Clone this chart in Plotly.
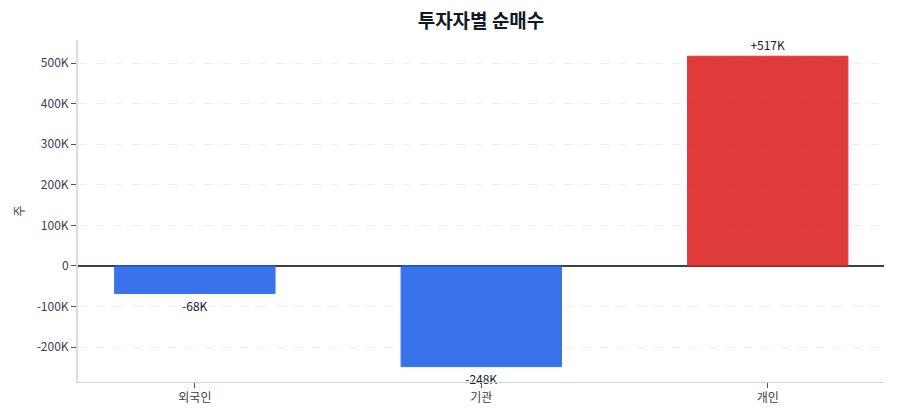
import plotly.graph_objects as go

categories = ["외국인", "기관", "개인"]
values = [-68000, -248000, 517000]
labels = ["-68K", "-248K", "+517K"]
tick_vals = [-200000, -100000, 0, 100000, 200000, 300000, 400000, 500000]
tick_text = ["-200K", "-100K", "0", "100K", "200K", "300K", "400K", "500K"]

colors = ["#2563eb" if v < 0 else "#dc2626" for v in values]

fig = go.Figure(go.Bar(
    x=categories, y=values, text=labels, textposition="outside",
    textfont=dict(size=12, color="#111827"),
    marker=dict(color=colors, opacity=0.9, line=dict(color=colors, width=1)),
    width=0.56, cliponaxis=False,
))

fig.update_layout(
    width=900, height=420,
    margin=dict(l=78, r=16, t=40, b=38),
    paper_bgcolor="white", plot_bgcolor="white",
    font=dict(family="Noto Sans CJK KR", size=12, color="#374151"),
    title=dict(text="<b>투자자별 순매수</b>", x=0.5, xref="paper", xanchor="center",
               y=0.95, yref="container", yanchor="middle",
               font=dict(size=19, color="#111827")),
    showlegend=False,
    xaxis=dict(range=[-0.408, 2.406], showline=True, linecolor="#cbd5e1", linewidth=1,
               ticks="outside", ticklen=5, tickcolor="#4b5563",
               tickfont=dict(size=12, color="#374151")),
    yaxis=dict(range=[-286000, 557000], tickvals=tick_vals, ticktext=tick_text,
               showline=True, linecolor="#d9dee6", linewidth=2, ticks="outside",
               ticklen=5, tickcolor="#4b5563", showgrid=True, gridcolor="#eceef2",
               griddash="dash", zeroline=True, zerolinecolor="#374151", zerolinewidth=1.5,
               title=dict(text="주", standoff=9, font=dict(size=12, color="#374151"))),
)

fig.write_html("out.html")
